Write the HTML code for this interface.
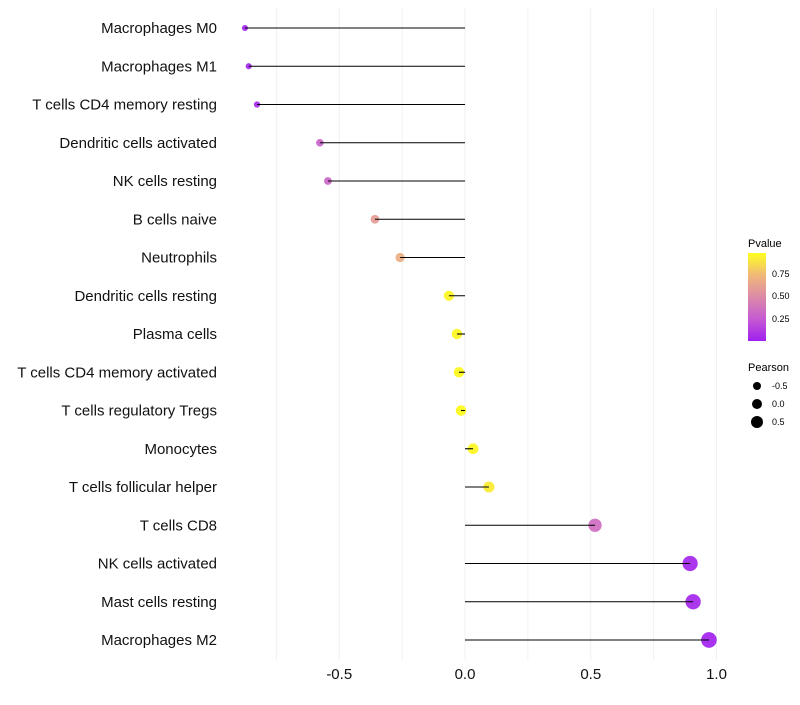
<!DOCTYPE html>
<html><head><meta charset="utf-8"><style>
body{margin:0;background:#fff;font-family:"Liberation Sans",sans-serif}
</style></head><body>
<svg id="chart" width="800" height="700" xmlns="http://www.w3.org/2000/svg">
<defs><linearGradient id="pg" x1="0" y1="1" x2="0" y2="0">
<stop offset="0" stop-color="#a020f0"/><stop offset="0.25" stop-color="#c65ad2"/><stop offset="0.5" stop-color="#dc8aa8"/><stop offset="0.75" stop-color="#f0b878"/><stop offset="1" stop-color="#ffff20"/></linearGradient></defs>
<g id="grid"></g><g id="marks"></g><g id="ylabels"></g><g id="xlabels"></g>
<g font-size="10">
<text x="748" y="247" font-size="11">Pvalue</text>
<rect x="748" y="253" width="18" height="88" fill="url(#pg)"/>
<text x="772" y="277" font-size="9">0.75</text><text x="772" y="299" font-size="9">0.50</text><text x="772" y="322" font-size="9">0.25</text>
<text x="748" y="371" font-size="11">Pearson</text>
<circle cx="757" cy="386" r="4" fill="#000"/><text x="772" y="389" font-size="9">-0.5</text>
<circle cx="757" cy="404" r="5" fill="#000"/><text x="772" y="407" font-size="9">0.0</text>
<circle cx="757" cy="422" r="6" fill="#000"/><text x="772" y="425" font-size="9">0.5</text>
</g>
</svg>
<script>
const categories=["Macrophages M0","Macrophages M1","T cells CD4 memory resting","Dendritic cells activated","NK cells resting","B cells naive","Neutrophils","Dendritic cells resting","Plasma cells","T cells CD4 memory activated","T cells regulatory  Tregs ","Monocytes","T cells follicular helper","T cells CD8","NK cells activated","Mast cells resting","Macrophages M2"];
const pearson=[-0.875,-0.86,-0.827,-0.577,-0.545,-0.358,-0.258,-0.064,-0.032,-0.024,-0.016,0.032,0.095,0.517,0.895,0.907,0.97];
const pvalues=[0.02,0.03,0.04,0.3,0.32,0.6,0.7,0.97,0.97,0.98,0.99,0.97,0.93,0.35,0.03,0.03,0.01];
const xTicks=[-0.5,0.0,0.5,1.0];
const xTickLabels=["-0.5","0.0","0.5","1.0"];
const NS="http://www.w3.org/2000/svg";
const x=v=>465+v*251.5;
const y=i=>28+i*38.25;
const rScale=v=>Math.max(2.2,5.3+2.6*v);
const stops=[[0,[160,32,240]],[0.25,[198,90,210]],[0.5,[220,138,168]],[0.75,[240,184,120]],[1,[255,255,20]]];
function col(p){for(let k=1;k<stops.length;k++){if(p<=stops[k][0]){const a=stops[k-1],b=stops[k],t=(p-a[0])/(b[0]-a[0]);return "rgb("+a[1].map((c,j)=>Math.round(c+(b[1][j]-c)*t)).join(",")+")";}}return "rgb(255,255,20)";}
function mk(t,at,par){const e=document.createElementNS(NS,t);for(const k in at)e.setAttribute(k,at[k]);document.getElementById(par).appendChild(e);return e;}
[-0.75,-0.5,-0.25,0,0.25,0.5,0.75,1.0].forEach(v=>{
const g=mk("line",{x1:x(v),x2:x(v),y1:8,y2:660,stroke:"#f0f0f0","stroke-width":1},"grid");

});
categories.forEach((c,i)=>{
const t=mk("text",{x:217,y:y(i)+5,"text-anchor":"end","font-size":"15",fill:"#111","xml:space":"preserve"},"ylabels");t.textContent=c;


const p=mk("circle",{cx:x(pearson[i]),cy:y(i),r:rScale(pearson[i]),fill:col(pvalues[i]),"fill-opacity":0.92},"marks");


const l=mk("line",{x1:x(0),x2:x(pearson[i]),y1:y(i),y2:y(i),stroke:"#000","stroke-width":1.1},"marks");


});
xTicks.forEach((v,i)=>{
const t=mk("text",{x:x(v),y:679,"text-anchor":"middle","font-size":"15",fill:"#111"},"xlabels");t.textContent=xTickLabels[i];

});
</script>
</body></html>
